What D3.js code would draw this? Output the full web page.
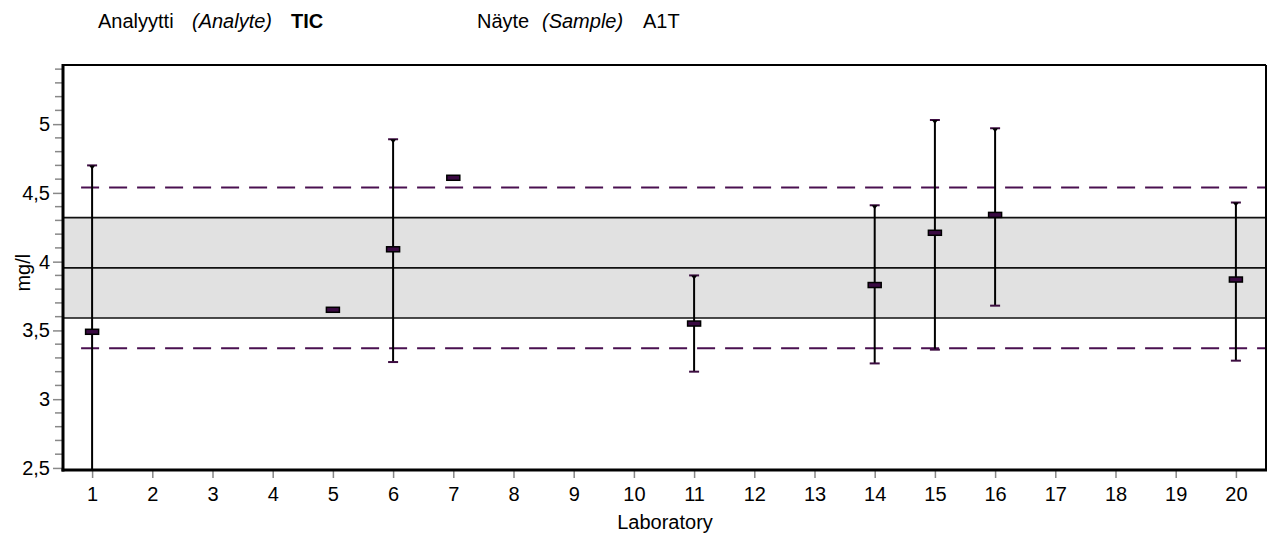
<!doctype html>
<html lang="fi">
<head>
<meta charset="utf-8">
<title>TIC A1T</title>
<script src="https://d3js.org/d3.v7.min.js"></script>
<style>
  body { margin: 0; background: #fff; }
  svg { display: block; font-family: "Liberation Sans", Arial, sans-serif; }
  .hdr { font-size: 20px; fill: #000; }
  .tick text { font-size: 20px; fill: #000; }
</style>
</head>
<body>
<svg width="1273" height="539"></svg>
<script>
// lab results (mg/l)
var labs  = [1, 5, 6, 7, 11, 14, 15, 16, 20];
var means = [3.49, 3.65, 4.09, 4.61, 3.55, 3.83, 4.21, 4.34, 3.87];
var upper = [4.70, null, 4.89, null, 3.90, 4.41, 5.03, 4.97, 4.43];
var lower = [2.30, null, 3.27, null, 3.20, 3.26, 3.36, 3.68, 3.28];

var assigned = 3.955;
var band = [3.59, 4.32];
var limits = [3.37, 4.54];
var yTicks = [2.5, 3, 3.5, 4, 4.5, 5];
var xCats = d3.range(1, 21);

(function () {
  var svg = d3.select("svg");
  var pl = 63, pr = 1266, pt = 65, pb = 470;

  var x = d3.scaleLinear().domain([0.5, 20.5]).range([pl - 1, pr]);
  var y = d3.scaleLinear().domain([2.485, 5.43]).range([pb, pt]);

  // header
  var h = svg.append("text").attr("class", "hdr").attr("y", 28);
  h.append("tspan").attr("x", 98).text("Analyytti");
  h.append("tspan").attr("x", 192).style("font-style", "italic").text("(Analyte)");
  h.append("tspan").attr("x", 291).style("font-weight", "bold").text("TIC");
  var h2 = svg.append("text").attr("class", "hdr").attr("y", 28);
  h2.append("tspan").attr("x", 477).text("Näyte");
  h2.append("tspan").attr("x", 542).style("font-style", "italic").text("(Sample)");
  h2.append("tspan").attr("x", 643).text("A1T");

  svg.append("defs").append("clipPath").attr("id", "clip")
    .append("rect").attr("x", pl).attr("y", pt).attr("width", pr - pl).attr("height", pb - pt);

  var plot = svg.append("g").attr("clip-path", "url(#clip)");

  // grey band
  plot.append("rect")
    .attr("x", pl).attr("width", pr - pl)
    .attr("y", y(band[1])).attr("height", y(band[0]) - y(band[1]))
    .attr("fill", "#e1e1e1");

  plot.selectAll("line.bandline").data([band[0], assigned, band[1]]).enter().append("line")
    .attr("x1", pl).attr("x2", pr)
    .attr("y1", function (d) { return y(d); }).attr("y2", function (d) { return y(d); })
    .attr("stroke", "#111").attr("stroke-width", 1.6);

  plot.selectAll("line.limit").data(limits).enter().append("line")
    .attr("x1", x(1) - 11).attr("x2", pr)
    .attr("y1", function (d) { return y(d); }).attr("y2", function (d) { return y(d); })
    .attr("stroke", "#4a1050").attr("stroke-width", 2)
    .attr("stroke-dasharray", "18,10");

  // error bars
  var data = labs.map(function (l, i) { return { lab: l, m: means[i], hi: upper[i], lo: lower[i] }; });
  var bars = data.filter(function (d) { return d.hi != null; });

  plot.selectAll("line.err").data(bars).enter().append("line")
    .attr("x1", function (d) { return x(d.lab); }).attr("x2", function (d) { return x(d.lab); })
    .attr("y1", function (d) { return y(d.hi); }).attr("y2", function (d) { return y(d.lo); })
    .attr("stroke", "#000").attr("stroke-width", 2);

  plot.selectAll("line.capHi").data(bars).enter().append("line")
    .attr("x1", function (d) { return x(d.lab) - 5; }).attr("x2", function (d) { return x(d.lab) + 5; })
    .attr("y1", function (d) { return y(d.hi); }).attr("y2", function (d) { return y(d.hi); })
    .attr("stroke", "#3c0c40").attr("stroke-width", 2);

  plot.selectAll("path.capTri").data(bars).enter().append("path")
    .attr("d", function (d) { var cx = x(d.lab), cy = y(d.hi); return "M" + (cx - 3) + "," + cy + "L" + (cx + 3) + "," + cy + "L" + cx + "," + (cy + 4) + "Z"; })
    .attr("fill", "#000");

  plot.selectAll("line.capLo").data(bars).enter().append("line")
    .attr("x1", function (d) { return x(d.lab) - 5; }).attr("x2", function (d) { return x(d.lab) + 5; })
    .attr("y1", function (d) { return y(d.lo); }).attr("y2", function (d) { return y(d.lo); })
    .attr("stroke", "#3c0c40").attr("stroke-width", 2);

  // mean markers
  plot.selectAll("rect.mean").data(data).enter().append("rect")
    .attr("x", function (d) { return x(d.lab) - 6.5; }).attr("y", function (d) { return y(d.m) - 2.5; })
    .attr("width", 13).attr("height", 5)
    .attr("fill", "#3a0a42").attr("stroke", "#000").attr("stroke-width", 1.5);

  // frame
  svg.append("line").attr("x1", pl).attr("x2", pr).attr("y1", pt).attr("y2", pt).attr("stroke", "#000").attr("stroke-width", 2);
  svg.append("line").attr("x1", pr).attr("x2", pr).attr("y1", pt).attr("y2", pb).attr("stroke", "#000").attr("stroke-width", 2);

  // y axis
  var yAxis = d3.axisLeft(y).tickValues(yTicks).tickSize(9).tickPadding(3)
    .tickFormat(function (d) { return String(d).replace(".", ","); });
  var gy = svg.append("g").attr("transform", "translate(" + (pl - 1) + ",0)").call(yAxis);
  gy.select(".domain").remove();
  gy.selectAll(".tick line").attr("stroke", "#888").attr("stroke-width", 1.5);

  var minor = d3.range(25, 55).filter(function (v) { return v % 5 !== 0; }).map(function (v) { return v / 10; });
  svg.append("g").selectAll("line").data(minor).enter().append("line")
    .attr("x1", pl - 8).attr("x2", pl - 1)
    .attr("y1", function (d) { return y(d); }).attr("y2", function (d) { return y(d); })
    .attr("stroke", "#888").attr("stroke-width", 1.5);

  svg.append("line").attr("x1", pl).attr("x2", pl).attr("y1", pt - 1).attr("y2", pb + 1.5).attr("stroke", "#000").attr("stroke-width", 3);

  // x axis
  var xAxis = d3.axisBottom(x).tickValues(xCats).tickSize(8).tickPadding(9).tickFormat(d3.format("d"));
  var gx = svg.append("g").attr("transform", "translate(0," + pb + ")").call(xAxis);
  gx.select(".domain").remove();
  gx.selectAll(".tick line").attr("stroke", "#888").attr("stroke-width", 1.5);
  svg.append("line").attr("x1", pl - 1.5).attr("x2", pr + 1).attr("y1", pb).attr("y2", pb).attr("stroke", "#000").attr("stroke-width", 3);

  // axis titles
  svg.append("text").attr("x", 665).attr("y", 529)
    .attr("text-anchor", "middle").style("font-size", "20px").text("Laboratory");
  svg.append("text").attr("transform", "translate(30," + y(3.92) + ") rotate(-90)")
    .attr("text-anchor", "middle").style("font-size", "20px").text("mg/l");
})();
</script>
</body>
</html>
